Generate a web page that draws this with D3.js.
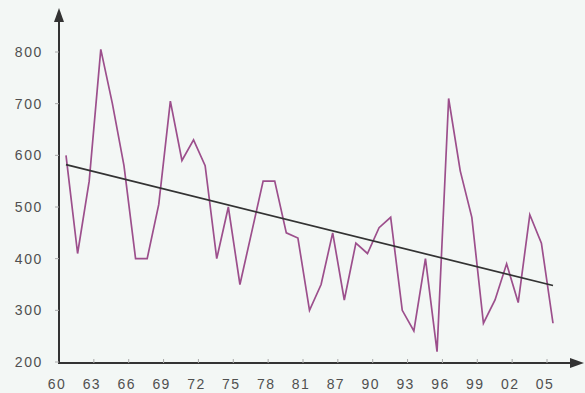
<!DOCTYPE html>
<html><head><meta charset="utf-8">
<script src="https://cdn.jsdelivr.net/npm/d3@7"></script>
<style>html,body{margin:0;padding:0;background:#f3f7f5;}svg{display:block;}</style>
</head><body>
<script>
const xLabels = ["60","63","66","69","72","75","78","81","87","90","93","96","99","02","05"];
const yTicks = [200,300,400,500,600,700,800];
const years = [1961,1962,1963,1964,1965,1966,1967,1968,1969,1970,1971,1972,1973,1974,1975,1976,1977,1978,1979,1980,1981,1982,1983,1984,1985,1986,1987,1988,1989,1990,1991,1992,1993,1994,1995,1996,1997,1998,1999,2000,2001,2002,2003];
const values = [600,410,550,805,700,580,400,400,505,705,590,630,580,400,500,350,450,550,550,450,440,300,350,450,320,430,410,460,480,300,260,400,220,710,570,480,275,320,390,315,485,430,275];
const trendYears = [1961, 2003];
const trendValues = [582, 348];

const W = 585, H = 393;
const svg = d3.select("body").append("svg").attr("width", W).attr("height", H);
svg.append("rect").attr("width", W).attr("height", H).attr("fill", "#f3f7f5");

const y = d3.scaleLinear().domain([200, 800]).range([362, 52]);
const xLab = d3.scalePoint().domain(xLabels).range([59, 547]);
const x = d3.scaleLinear().domain([1961, 2003]).range([66, 553]);

const axisY0 = 59, axisX0 = 363;
const axisColor = "#333";
const textColor = "#505050";
const font = "Liberation Sans, Arial, sans-serif";

// data line
svg.append("path").datum(values)
  .attr("fill", "none").attr("stroke", "#9c4f8c").attr("stroke-width", 1.7)
  .attr("d", d3.line().x((d, i) => x(years[i])).y(d => y(d)));

// trend line
svg.append("path").datum(trendValues)
  .attr("fill", "none").attr("stroke", "#333").attr("stroke-width", 1.7)
  .attr("d", d3.line().x((d, i) => x(trendYears[i])).y(d => y(d)));

// axes
svg.append("line").attr("x1", axisY0).attr("y1", axisX0).attr("x2", axisY0).attr("y2", 20)
  .attr("stroke", axisColor).attr("stroke-width", 2);
svg.append("path").attr("d", `M${axisY0},8 L${axisY0 - 5},22 L${axisY0 + 5},22 Z`).attr("fill", axisColor);
svg.append("line").attr("x1", axisY0 - 1).attr("y1", axisX0).attr("x2", 572).attr("y2", axisX0)
  .attr("stroke", axisColor).attr("stroke-width", 2);
svg.append("path").attr("d", `M584,${axisX0} L570,${axisX0 - 5} L570,${axisX0 + 5} Z`).attr("fill", axisColor);

// y labels
const gy = svg.append("g");
yTicks.forEach(t => {
  gy.append("line").attr("x1", axisY0 - 4).attr("x2", axisY0).attr("y1", y(t)).attr("y2", y(t))
    .attr("stroke", "#aaa").attr("stroke-width", 1);
  gy.append("text").attr("x", 43).attr("y", y(t)).attr("dy", "0.36em")
    .attr("text-anchor", "end").attr("font-family", font)
    .attr("font-size", 14).attr("letter-spacing", 1.6).attr("fill", textColor).text(t);
});

// x labels
const gx = svg.append("g");
xLabels.forEach((l, i) => {
  if (i > 0) gx.append("line").attr("x1", xLab(l)).attr("x2", xLab(l)).attr("y1", axisX0 - 4).attr("y2", axisX0)
    .attr("stroke", "#aaa").attr("stroke-width", 1);
  gx.append("text").attr("x", xLab(l) - 2).attr("y", 389)
    .attr("text-anchor", "middle").attr("font-family", font)
    .attr("font-size", 14).attr("letter-spacing", 1.4).attr("fill", textColor).text(l);
});
</script>
</body></html>
